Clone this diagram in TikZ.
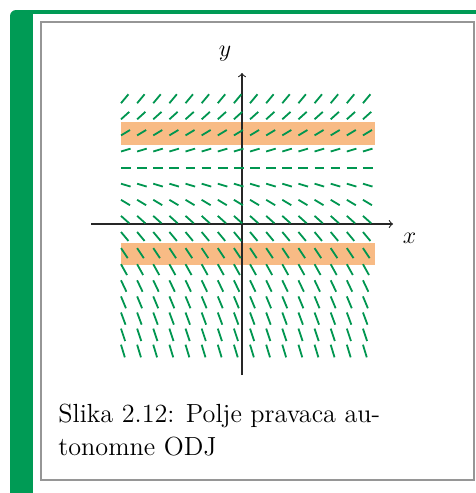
\documentclass[tikz,border=0pt]{standalone}
\usepackage{tikz}
\definecolor{frameg}{RGB}{0,155,85}
\definecolor{segg}{RGB}{0,150,80}
\definecolor{bandc}{RGB}{248,187,133}
\definecolor{boxgray}{RGB}{150,150,150}
\tikzset{
  fieldseg/.style={segg, line width=0.9pt},
  axisline/.style={->, black!85, line width=0.55pt},
  band/.style={fill=bandc},
  lbl/.style={inner sep=0pt, font=\fontsize{13}{15}\selectfont},
  capline/.style={anchor=base west, inner sep=0pt, font=\fontsize{13.1}{16}\selectfont},
}
\begin{document}
\begin{tikzpicture}[x=0.5pt,y=-0.5pt]
\useasboundingbox (0,0) rectangle (476,493);
% frame
\fill[frameg] (10,493) [rounded corners=3] -- (10,10) [sharp corners] -- (476,10) -- (476,493) -- cycle;
\fill[white] (33,14) rectangle (476,493);
\draw[boxgray, line width=0.6pt] (41,22) rectangle (474,480);
% bands
\fill[band] (121,122) rectangle (375,145);
\fill[band] (121,243) rectangle (375,265);
% axes
\coordinate (xl) at (91,224);
\coordinate (xr) at (393,224);
\coordinate (yb) at (242,375);
\coordinate (yt) at (242,73);
\draw[axisline] (xl) -- (xr);
\draw[axisline] (yb) -- (yt);
% field
\foreach \c in {0,...,15}{
  \foreach \r in {0,...,15}{
    \pgfmathsetmacro\xs{121+\c*16.13}
    \pgfmathsetmacro\ys{103.2+\r*16.1}
    \pgfmathsetmacro\sm{0.3*(4-\r)}
    \pgfmathsetmacro\sdx{9.8/sqrt(1+(\sm/1.4)*(\sm/1.4))}
    \pgfmathsetmacro\sdy{-\sm*\sdx}
    \draw[fieldseg] (\xs,\ys) -- ++(\sdx,\sdy);
  }
}
% labels
\node[lbl] (ylab) at (225,54) {$y$};
\node[lbl] (xlab) at (409.5,238.5) {$x$};
\node[capline] (cap1) at (58,422) {Slika 2.12: Polje pravaca au-};
\node[capline] (cap2) at (58,455) {tonomne ODJ};
\end{tikzpicture}
\end{document}
